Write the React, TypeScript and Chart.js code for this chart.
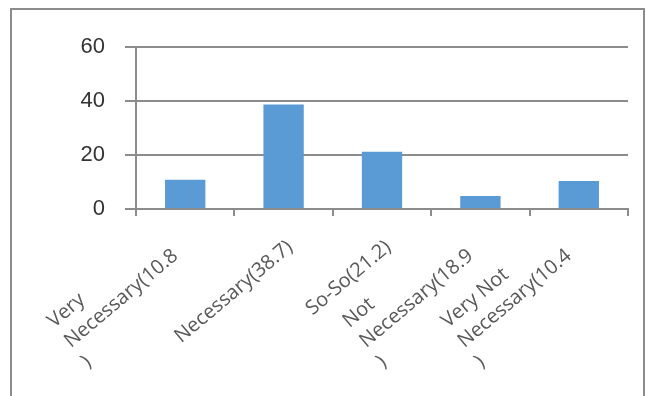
import React, { useEffect, useRef } from "react";
import { Chart, registerables } from "chart.js";

Chart.register(...registerables);

const categories: string[][] = [
  ["Very", "Necessary(10.8", ")"],
  ["Necessary(38.7)"],
  ["So-So(21.2)"],
  ["Not", "Necessary(18.9", ")"],
  ["Very Not", "Necessary(10.4", ")"],
];
const values: number[] = [10.8, 38.7, 21.2, 4.8, 10.4];
const yMin = 0;
const yMax = 60;
const yStep = 20;

const GRID = "#8c8c8c";
const LH = 26;
const ANGLE = (-40 * Math.PI) / 180;

const xLabelPlugin = {
  id: "xLabels",
  afterDraw(chart: any) {
    const ctx = chart.ctx;
    const xs = chart.scales.x;
    ctx.save();
    ctx.font = '20px "Open Sans"';
    ctx.fillStyle = "#595959";
    ctx.textBaseline = "middle";
    ctx.textAlign = "left";
    categories.forEach((lines, i) => {
      const cx = xs.getPixelForTick(i);
      const top = xs.top;
      const n = lines.length;
      const maxW = Math.max(...lines.map((l) => ctx.measureText(l).width));
      const U = -18 - 9 * (n - 1);
      const Vc = 31.5 - 2 * (n - 1);
      ctx.save();
      ctx.translate(cx, top);
      ctx.rotate(ANGLE);
      lines.forEach((l, j) => {
        const v = Vc + (j - (n - 1) / 2) * LH;
        ctx.fillText(l, U - maxW, v);
      });
      ctx.restore();
    });
    ctx.restore();
  },
};

export default function App() {
  const ref = useRef<HTMLCanvasElement>(null);
  useEffect(() => {
    if (!ref.current) return;
    const chart = new Chart(ref.current, {
      type: "bar",
      data: {
        labels: categories,
        datasets: [
          {
            data: values,
            backgroundColor: "#5b9bd5",
            barPercentage: 0.41,
            categoryPercentage: 1,
          },
        ],
      },
      options: {
        animation: false,
        responsive: false,
        maintainAspectRatio: false,
        devicePixelRatio: 1,
        layout: { padding: { top: 47, right: 18, left: 0, bottom: 0 } },
        plugins: { legend: { display: false }, tooltip: { enabled: false } },
        scales: {
          x: {
            grid: {
              display: true,
              drawOnChartArea: false,
              drawTicks: true,
              tickLength: 7,
              color: GRID,
              lineWidth: 2,
              offset: true,
            },
            border: { color: GRID, width: 2 },
            ticks: { display: false },
            afterFit: (s: any) => {
              s.height = 396 - 209;
            },
          },
          y: {
            min: yMin,
            max: yMax,
            ticks: {
              stepSize: yStep,
              color: "#333333",
              font: { family: "Liberation Sans", size: 22 },
              padding: 20,
            },
            grid: { color: GRID, lineWidth: 2, tickLength: 11 },
            border: { color: GRID, width: 2 },
            afterFit: (s: any) => {
              s.width = 136;
            },
          },
        },
      },
      plugins: [xLabelPlugin],
    });
    return () => chart.destroy();
  }, []);

  return (
    <div
      style={{
        position: "fixed",
        left: 0,
        top: 0,
        width: 646,
        height: 396,
        overflow: "hidden",
        background: "#fff",
      }}
    >
      <div
        style={{
          position: "absolute",
          left: 10,
          top: 8,
          width: 635,
          height: 420,
          boxSizing: "border-box",
          border: `2px solid ${GRID}`,
        }}
      />
      <canvas
        ref={ref}
        width={646}
        height={396}
        style={{ position: "absolute", left: 0, top: 0, width: 646, height: 396 }}
      />
    </div>
  );
}
